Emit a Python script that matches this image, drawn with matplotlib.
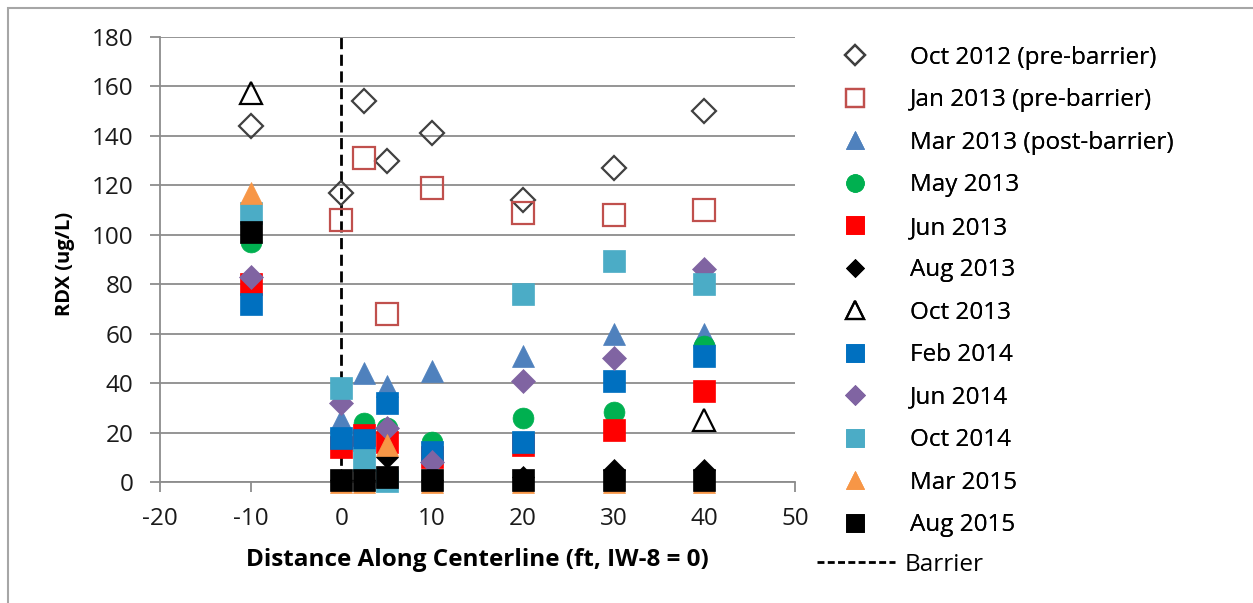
import numpy as np
import matplotlib
matplotlib.use('Agg')
import matplotlib.pyplot as plt
from matplotlib.lines import Line2D
from matplotlib.patches import Rectangle

plt.rcParams['font.family'] = ['Open Sans', 'DejaVu Sans']
plt.rcParams['axes.unicode_minus'] = False

# 距離 (ft)
dist = [-10, 0, 2.5, 5, 10, 20, 30, 40]
nan = np.nan

# 各回の RDX (ug/L)
oct2012 = [144, 117, 154, 130, 141, 114, 127, 150]
jan2013 = [nan, 106, 131, 68, 119, 109, 108, 110]
mar2013 = [nan, 25, 44, 39, 45, 51, 60, 60]
may2013 = [97, nan, 24, 22, 16, 26, 28.5, 55]
jun2013 = [80, 14, 19, 16, 10, 15, 21, 37]
aug2013 = [nan, 1, 1, 10, 1, 2, 5, 5]
oct2013 = [157.5, nan, nan, nan, nan, nan, nan, 25]
feb2014 = [72, 18, 17, 32, 12, 16, 41, 51]
jun2014 = [83, 32, nan, 22, 8, 41, 50, 86]
oct2014 = [109, 38, 9, 0.5, nan, 76, 89.5, 80]
mar2015 = [117, 0, 0, 15, 0, 0, 0, 0]
aug2015 = [101, 1, 1, 2, 1, 1, 1, 1]

labels = ['Oct 2012 (pre-barrier)', 'Jan 2013 (pre-barrier)', 'Mar 2013 (post-barrier)',
          'May 2013', 'Jun 2013', 'Aug 2013', 'Oct 2013', 'Feb 2014', 'Jun 2014',
          'Oct 2014', 'Mar 2015', 'Aug 2015']
series = [oct2012, jan2013, mar2013, may2013, jun2013, aug2013, oct2013,
          feb2014, jun2014, oct2014, mar2015, aug2015]
# (marker, size, face, edge)
styles = [('D', 12, 'none', '#404040'),
          ('s', 15.5, 'none', '#C0504D'),
          ('^', 16, '#4F81BD', '#4F81BD'),
          ('o', 15, '#00B050', '#00B050'),
          ('s', 15.5, '#FF0000', '#FF0000'),
          ('D', 11, '#000000', '#000000'),
          ('^', 16, 'none', '#000000'),
          ('s', 15.5, '#0070C0', '#0070C0'),
          ('D', 12, '#8064A2', '#8064A2'),
          ('s', 15.5, '#4BACC6', '#4BACC6'),
          ('^', 16, '#F79646', '#F79646'),
          ('s', 15.5, '#000000', '#000000')]

W, H = 1253, 603
fig = plt.figure(figsize=(W / 100, H / 100), dpi=100)
ax = fig.add_axes([160 / W, 1 - 482 / H, (795 - 160) / W, (482 - 37) / H])

gcol = '#8c8c8c'
ax.set_xlim(-20, 50)
ax.set_ylim(0, 180)
ax.set_xticks(np.arange(-20, 51, 10))
ax.set_yticks(np.arange(0, 181, 20))
ax.yaxis.grid(True, color=gcol, lw=1.3)
ax.set_axisbelow(True)
for s in ['top', 'right']:
    ax.spines[s].set_visible(False)
for s in ['left', 'bottom']:
    ax.spines[s].set_color(gcol)
    ax.spines[s].set_linewidth(1.3)
ax.tick_params(axis='both', colors=gcol, width=1.3, length=7, labelsize=17.5,
               labelcolor='#1a1a1a')
ax.tick_params(axis='x', pad=11)
ax.tick_params(axis='y', pad=12)

# バリア位置
ax.axvline(0, color='black', lw=2, ls=(0, (4, 2)), zorder=2)

handles = []
for y, (m, ms, fc, ec), lab in zip(series, styles, labels):
    lw = 1.6 if fc == 'none' else 0.5
    ax.plot(dist, y, ls='none', marker=m, ms=ms, mfc=fc, mec=ec, mew=lw, zorder=3,
            clip_on=False)
    handles.append(Line2D([], [], ls='none', marker=m, ms=ms * 0.85, mfc=fc, mec=ec,
                          mew=lw, label=lab))

ax.set_xlabel('Distance Along Centerline (ft, IW-8 = 0)', fontsize=17.5,
              fontweight='bold', labelpad=12)
ax.set_ylabel('RDX (ug/L)', fontsize=14.5, fontweight='bold')
ax.yaxis.set_label_coords(-0.134, 0.49)

leg = fig.legend(handles=handles, loc='upper left', bbox_to_anchor=(838 / W, 1 - 46 / H),
                 frameon=False, fontsize=17.5, handlelength=1.4, handletextpad=1.55,
                 labelspacing=0.76, borderpad=0, borderaxespad=0)
bl = Line2D([], [], color='black', lw=2, ls=(0, (2.5, 1.2)), label='Barrier')
leg2 = fig.legend(handles=[bl], loc='upper left', bbox_to_anchor=(817 / W, 1 - 553 / H),
                  frameon=False, fontsize=17.5, handlelength=3.2, handletextpad=0.4,
                  borderpad=0, borderaxespad=0)
fig.add_artist(leg)

# 外枠
fig.add_artist(Rectangle((8 / W, -0.1), 2, 1.1 - 8 / H, transform=fig.transFigure,
                         fill=False, ec='#a6a6a6', lw=1.5))

fig.savefig('out.png', dpi=100)
